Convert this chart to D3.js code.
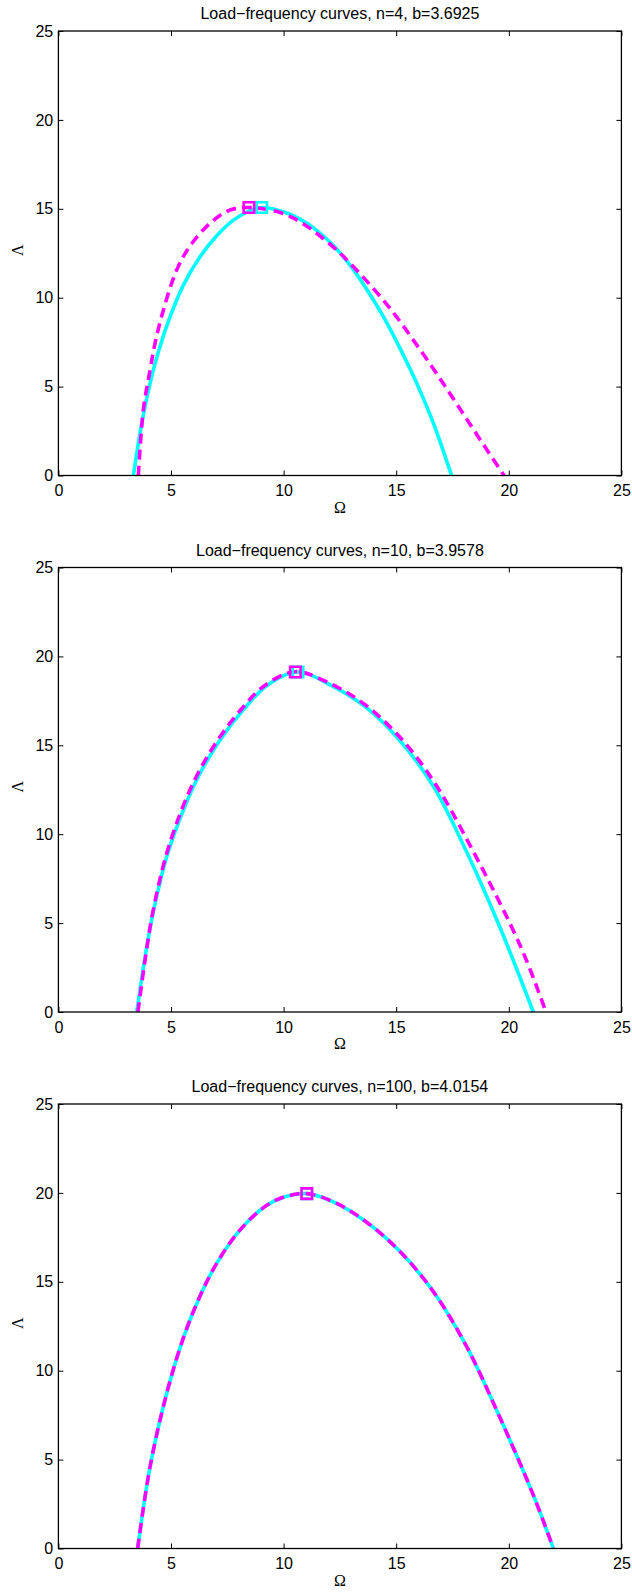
<!DOCTYPE html>
<html><head><meta charset="utf-8">
<script src="https://cdn.jsdelivr.net/npm/d3@7"></script>
<style>body{margin:0;background:#fff}svg{display:block}</style>
</head><body><svg id="c" width="632" height="1593"></svg>
<script>
// ---- data ----
const titles = ["Load\u2212frequency curves, n=4, b=3.6925",
                "Load\u2212frequency curves, n=10, b=3.9578",
                "Load\u2212frequency curves, n=100, b=4.0154"];
const xTicks = [0, 5, 10, 15, 20, 25];
const yTicks = [0, 5, 10, 15, 20, 25];
const xLabel = "\u03A9";
const yLabel = "\u039B";

const cyan1 = [[3.33,0],[3.70,2.93],[4.07,5.18],[4.44,6.96],[4.96,8.93],[5.55,10.71],[6.29,12.30],
  [7.03,13.48],[7.77,14.36],[8.51,14.9],[9.03,15.07],[9.99,14.83],[10.73,14.42],[11.47,13.79],
  [12.21,12.94],[12.95,11.83],[13.69,10.48],[14.43,8.93],[15.17,7.15],[15.91,5.19],[16.65,2.95],[17.46,0]];
const magenta1 = [[3.55,0],[3.77,3.68],[4.07,5.93],[4.29,7.43],[4.66,9.30],[5.25,11.55],[5.84,12.9],
  [6.73,14.18],[7.62,14.93],[8.46,15.07],[9.84,14.79],[10.88,14.15],[12.21,12.85],[12.95,11.94],
  [14.58,9.63],[16.06,7.08],[17.39,4.6],[18.57,2.32],[19.79,0]];

const cyan2 = [[3.48,0],[3.85,3.11],[4.21,5.6],[4.81,8.73],[5.55,11.36],[6.29,13.43],[7.18,15.30],
  [8.21,16.99],[9.25,18.35],[10.6,19.12],[12.21,18.3],[13.69,17.1],[15.17,15.25],[16.65,12.7],
  [18.13,9.0],[19.61,4.75],[21.09,0]];
const magenta2 = [[3.53,0],[3.87,3.11],[4.19,5.6],[4.77,8.75],[5.47,11.36],[6.2,13.43],[7.08,15.3],
  [8.1,17.0],[9.15,18.35],[10.52,19.14],[12.1,18.45],[13.6,17.3],[15.17,15.45],[16.65,13.0],
  [18.31,9.3],[20.53,3.67],[21.65,0]];

const cyan3 = [[3.52,0],[4.07,4.60],[4.81,8.73],[5.55,11.85],[6.29,14.2],[7.03,16.04],[8.06,17.91],
  [9.25,19.3],[10.1,19.8],[11.03,19.96],[12.21,19.5],[13.69,18.35],[15.17,16.7],[16.65,14.45],
  [18.13,11.35],[19.61,7.35],[21.09,3.0],[21.98,0]];
const magenta3 = [[3.52,0],[4.07,4.60],[4.81,8.73],[5.55,11.85],[6.29,14.2],[7.03,16.04],[8.06,17.91],
  [9.25,19.3],[10.1,19.8],[11.03,19.96],[12.21,19.5],[13.69,18.35],[15.17,16.7],[16.65,14.45],
  [18.13,11.35],[19.61,7.35],[21.09,3.0],[21.98,0]];

const peakCyan = [[9.03,15.07],[10.64,19.12],[11.03,19.96]];
const peakMagenta = [[8.46,15.07],[10.52,19.12],[11.03,19.96]];

const cyanSeries = [cyan1, cyan2, cyan3];
const magentaSeries = [magenta1, magenta2, magenta3];

// ---- layout ----
const W = 632;
const left = 58.4, right = 621.4;
const tops = [31, 567.5, 1104];
const ph = 444.5;
const CYAN = "#00ffff", MAGENTA = "#ff00ff";
const sans = "'Liberation Sans', Arial, Helvetica, sans-serif";
const serif = "'Liberation Serif', 'Times New Roman', serif";

const svg = d3.select("#c");
svg.append("rect").attr("width", W).attr("height", 1593).attr("fill", "#fff");

const x = d3.scaleLinear().domain([0, 25]).range([left, right]);

tops.forEach((top, i) => {
  const y = d3.scaleLinear().domain([0, 25]).range([top + ph, top]);
  const g = svg.append("g");

  g.append("text").attr("x", (left + right) / 2).attr("y", top - 12)
    .attr("text-anchor", "middle").attr("font-family", sans).attr("font-size", 16)
    .text(titles[i]);

  const line = d3.line().x(d => x(d[0])).y(d => y(d[1])).curve(d3.curveCatmullRom.alpha(0.5));

  g.append("path").datum(cyanSeries[i]).attr("d", line)
    .attr("fill", "none").attr("stroke", CYAN).attr("stroke-width", 3.6)
    .attr("stroke-linejoin", "round");
  g.append("path").datum(magentaSeries[i]).attr("d", line)
    .attr("fill", "none").attr("stroke", MAGENTA).attr("stroke-width", 3.6)
    .attr("stroke-dasharray", "10,6");

  const sq = d3.symbol(d3.symbolSquare, 110);
  g.append("path").attr("d", sq())
    .attr("transform", `translate(${x(peakCyan[i][0])},${y(peakCyan[i][1])})`)
    .attr("fill", "none").attr("stroke", CYAN).attr("stroke-width", 2.6);
  g.append("path").attr("d", sq())
    .attr("transform", `translate(${x(peakMagenta[i][0])},${y(peakMagenta[i][1])})`)
    .attr("fill", "none").attr("stroke", MAGENTA).attr("stroke-width", 2.6);

  const bottom = top + ph;
  const ax = (sel) => sel.selectAll(".domain").remove();
  g.append("g").attr("transform", `translate(0,${bottom})`)
    .call(d3.axisBottom(x).tickValues(xTicks).tickSizeInner(-5).tickSizeOuter(0).tickPadding(9.3)
      .tickFormat(d3.format("d")))
    .call(ax)
    .call(s => s.selectAll("text").attr("font-family", sans).attr("font-size", 16).attr("fill", "#000"))
    .call(s => s.selectAll("line").attr("stroke", "#000"));
  g.append("g").attr("transform", `translate(0,${top})`)
    .call(d3.axisTop(x).tickValues(xTicks).tickSizeInner(-5).tickSizeOuter(0).tickFormat(""))
    .call(ax).call(s => s.selectAll("line").attr("stroke", "#000"));
  g.append("g").attr("transform", `translate(${left},0)`)
    .call(d3.axisLeft(y).tickValues(yTicks).tickSizeInner(-5).tickSizeOuter(0).tickPadding(5.2)
      .tickFormat(d3.format("d")))
    .call(ax)
    .call(s => s.selectAll("text").attr("font-family", sans).attr("font-size", 16).attr("fill", "#000"))
    .call(s => s.selectAll("line").attr("stroke", "#000"));
  g.append("g").attr("transform", `translate(${right},0)`)
    .call(d3.axisRight(y).tickValues(yTicks).tickSizeInner(-5).tickSizeOuter(0).tickFormat(""))
    .call(ax).call(s => s.selectAll("line").attr("stroke", "#000"));

  g.append("rect").attr("x", left).attr("y", top).attr("width", right - left).attr("height", ph)
    .attr("fill", "none").attr("stroke", "#000").attr("stroke-width", 1.3);

  g.append("text").attr("x", (left + right) / 2).attr("y", bottom + 37)
    .attr("text-anchor", "middle").attr("font-family", serif).attr("font-size", 16).text(xLabel);
  g.append("text").attr("transform", `translate(22.5,${top + ph / 2 - 3}) rotate(-90)`)
    .attr("text-anchor", "middle").attr("font-family", serif).attr("font-size", 16).text(yLabel);
});
</script></body></html>
